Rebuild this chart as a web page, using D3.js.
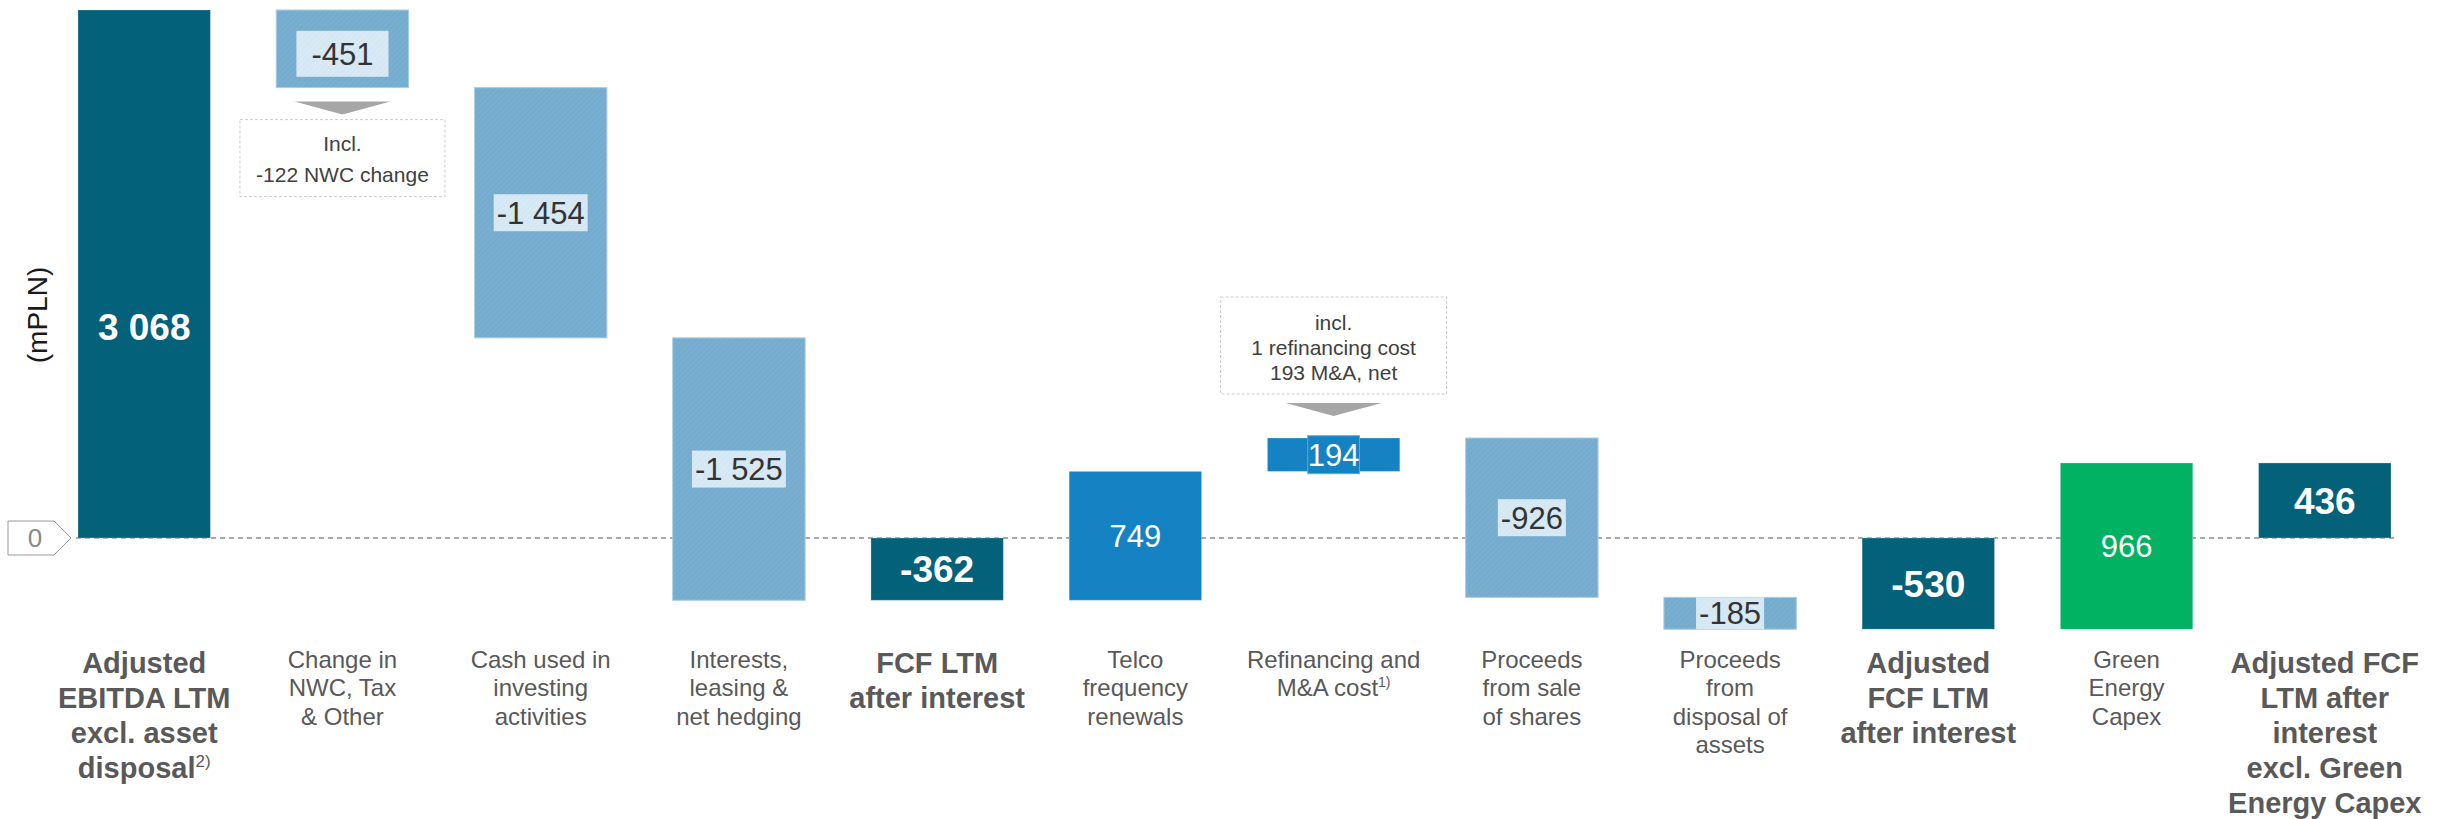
<!DOCTYPE html>
<html>
<head>
<meta charset="utf-8">
<script src="https://cdn.jsdelivr.net/npm/d3@7"></script>
<style>
  html, body { margin: 0; padding: 0; background: #ffffff; }
  svg { display: block; }
</style>
</head>
<body>
<svg id="chart" width="2455" height="819"></svg>
<script>
// ---- data (mPLN) ----
const categories = [
  "Adjusted EBITDA LTM excl. asset disposal",
  "Change in NWC, Tax & Other",
  "Cash used in investing activities",
  "Interests, leasing & net hedging",
  "FCF LTM after interest",
  "Telco frequency renewals",
  "Refinancing and M&A cost",
  "Proceeds from sale of shares",
  "Proceeds from disposal of assets",
  "Adjusted FCF LTM after interest",
  "Green Energy Capex",
  "Adjusted FCF LTM after interest excl. Green Energy Capex"
];
// label lines as printed under each bar ("^" starts a footnote marker)
const categoryLines = [
  ["Adjusted", "EBITDA LTM", "excl. asset", "disposal^2)"],
  ["Change in", "NWC, Tax", "& Other"],
  ["Cash used in", "investing", "activities"],
  ["Interests,", "leasing &", "net hedging"],
  ["FCF LTM", "after interest"],
  ["Telco", "frequency", "renewals"],
  ["Refinancing and", "M&A cost^1)"],
  ["Proceeds", "from sale", "of shares"],
  ["Proceeds", "from", "disposal of", "assets"],
  ["Adjusted", "FCF LTM", "after interest"],
  ["Green", "Energy", "Capex"],
  ["Adjusted FCF", "LTM after", "interest", "excl. Green", "Energy Capex"]
];
const values = [3068, -451, -1454, -1525, -362, 749, 194, -926, -185, -530, 966, 436];
// "total" bars start at zero, the others float on the running sum
const kinds = ["total", "decrease", "decrease", "decrease", "total", "increase",
               "increase", "decrease", "decrease", "total", "capex", "total"];
const notes = [
  { index: 1, side: "below", lines: ["Incl.", "-122 NWC change"] },
  { index: 6, side: "above", lines: ["incl.", "1 refinancing cost", "193 M&A, net"] }
];
const unitLabel = "(mPLN)";

// ---- styling ----
const FONT = "Arial, 'Liberation Sans', Helvetica, sans-serif";
const colors = {
  total: "#03617a",
  decrease: "url(#hatch)",
  increase: "#1583c3",
  capex: "#00b261"
};
const textGrey = "#595959";
const noteLayout = [
  { w: 205, h: 77, firstLine: 31, lineGap: 31 },
  { w: 226, h: 97, firstLine: 33, lineGap: 25 }
];

const fmt = d3.formatLocale({ decimal: ",", thousands: " ", grouping: [3], currency: ["", ""], minus: "-" }).format(",");

// ---- waterfall geometry ----
let running = 0;
const bars = values.map((v, i) => {
  let y0, y1;
  if (kinds[i] === "total") { y0 = 0; y1 = v; running = v; }
  else { y0 = running; y1 = running + v; running = y1; }
  return { i, cat: categories[i], value: v, kind: kinds[i], y0, y1 };
});

const svg = d3.select("#chart");
const x = d3.scaleBand().domain(categories).range([78, 2391]).paddingInner(0.332).paddingOuter(0);
const yMax = d3.max(bars, d => Math.max(d.y0, d.y1));
const y = d3.scaleLinear().domain([0, yMax]).range([538, 10]);

// hatch patterns for the decrease bars and their value boxes
const defs = svg.append("defs");
function hatch(id, base, line) {
  const p = defs.append("pattern").attr("id", id)
    .attr("patternUnits", "userSpaceOnUse").attr("width", 4).attr("height", 4)
    .attr("patternTransform", "rotate(45)");
  p.append("rect").attr("width", 4).attr("height", 4).attr("fill", base);
  p.append("line").attr("x1", 0).attr("y1", 0).attr("x2", 0).attr("y2", 4)
    .attr("stroke", line).attr("stroke-width", 1.2);
}
hatch("hatch", "#78aed0", "#6fa7ca");
hatch("hatchLight", "#d7e9f4", "#cfe3f0");

// zero baseline
svg.append("line")
  .attr("x1", 76).attr("x2", x.range()[1] + 6)
  .attr("y1", y(0)).attr("y2", y(0))
  .attr("stroke", "#8c8c8c").attr("stroke-width", 1.3)
  .attr("stroke-dasharray", "5,4");

// zero tag on the left
const z = y(0);
svg.append("path")
  .attr("d", `M8,${z - 17} L54,${z - 17} L71,${z} L54,${z + 17} L8,${z + 17} Z`)
  .attr("fill", "#ffffff").attr("stroke", "#9a9a9a").attr("stroke-width", 1);
svg.append("text").attr("x", 35).attr("y", z).attr("dy", "0.36em")
  .attr("text-anchor", "middle").attr("font-family", FONT).attr("font-size", 26)
  .attr("fill", "#8a8a8a").text("0");

// unit label
svg.append("text")
  .attr("transform", "translate(37,315) rotate(-90)")
  .attr("text-anchor", "middle").attr("dy", "0.35em")
  .attr("font-family", FONT).attr("font-size", 28).attr("fill", "#1a1a1a")
  .text(unitLabel);

// bars
svg.append("g").selectAll("rect").data(bars).join("rect")
  .attr("x", d => x(d.cat))
  .attr("width", x.bandwidth())
  .attr("y", d => y(Math.max(d.y0, d.y1)))
  .attr("height", d => Math.abs(y(d.y0) - y(d.y1)))
  .attr("fill", d => colors[d.kind])
  .attr("stroke", d => d.kind === "decrease" ? "#a9cde3" : "rgba(255,255,255,0.25)")
  .attr("stroke-width", 1);

// value labels
const labelG = svg.append("g");
bars.forEach(d => {
  const cx = x(d.cat) + x.bandwidth() / 2;
  const top = y(Math.max(d.y0, d.y1)), bot = y(Math.min(d.y0, d.y1));
  // the opening bar carries its label a little below its middle
  const cy = d.i === 0 ? y(d.value * 0.4) : (top + bot) / 2 + (d.i === 1 ? 5 : 0);
  const g = labelG.append("g");
  const t = g.append("text")
    .attr("x", cx).attr("y", cy).attr("dy", "0.36em")
    .attr("text-anchor", "middle").attr("font-family", FONT)
    .text(fmt(d.value));
  if (d.kind === "total") {
    t.attr("font-size", 37).attr("font-weight", "bold").attr("fill", "#ffffff");
  } else if (d.kind === "decrease") {
    t.attr("font-size", 31).attr("fill", "#333333");
  } else {
    t.attr("font-size", 31).attr("fill", "#ffffff");
  }
  const bb = t.node().getBBox();
  if (d.kind === "decrease") {
    const padX = d.i === 1 ? 15 : 3;
    const h = d.i === 1 ? 46 : Math.min(bb.height + 2, bot - top);
    g.insert("rect", "text")
      .attr("x", bb.x - padX).attr("width", bb.width + 2 * padX)
      .attr("y", cy - h / 2).attr("height", h)
      .attr("fill", "url(#hatchLight)");
  } else if (d.kind !== "total" && bb.height > bot - top) {
    g.insert("rect", "text")
      .attr("x", bb.x).attr("width", bb.width)
      .attr("y", cy - 19).attr("height", 38)
      .attr("fill", colors[d.kind]).attr("stroke", "#5ea9d8").attr("stroke-width", 1);
  }
});

// callout notes with arrows
notes.forEach((n, k) => {
  const d = bars[n.index];
  const L = noteLayout[k];
  const cx = x(d.cat) + x.bandwidth() / 2;
  const top = y(Math.max(d.y0, d.y1)), bot = y(Math.min(d.y0, d.y1));
  let arrowTop, boxTop;
  if (n.side === "below") {
    arrowTop = bot + 14;
    boxTop = arrowTop + 18;
  } else {
    arrowTop = top - 22 - 13;
    boxTop = arrowTop - 9 - L.h;
  }
  svg.append("path")
    .attr("d", `M${cx - 48},${arrowTop} L${cx + 48},${arrowTop} L${cx},${arrowTop + 13} Z`)
    .attr("fill", "#a6a6a6");
  svg.append("rect")
    .attr("x", cx - L.w / 2).attr("y", boxTop).attr("width", L.w).attr("height", L.h)
    .attr("fill", "#ffffff").attr("stroke", "#cccccc").attr("stroke-width", 1)
    .attr("stroke-dasharray", "3,2");
  n.lines.forEach((line, j) => {
    svg.append("text")
      .attr("x", cx).attr("y", boxTop + L.firstLine + j * L.lineGap)
      .attr("text-anchor", "middle").attr("font-family", FONT).attr("font-size", 21)
      .attr("fill", "#404040").text(line);
  });
});

// category labels
const catG = svg.append("g");
bars.forEach(d => {
  const bold = d.kind === "total";
  const cx = x(d.cat) + x.bandwidth() / 2;
  const first = bold ? 673 : 668, gap = bold ? 35 : 28.3;
  categoryLines[d.i].forEach((line, j) => {
    const [main, sup] = line.split("^");
    const t = catG.append("text")
      .attr("x", cx).attr("y", first + j * gap)
      .attr("text-anchor", "middle").attr("font-family", FONT)
      .attr("font-size", bold ? 29 : 24)
      .attr("font-weight", bold ? "bold" : "normal")
      .attr("fill", textGrey);
    t.append("tspan").text(main);
    if (sup) {
      t.append("tspan").attr("font-size", bold ? 17 : 14).attr("font-weight", "normal")
        .attr("dy", bold ? -11 : -9).text(sup);
    }
  });
});
</script>
</body>
</html>
